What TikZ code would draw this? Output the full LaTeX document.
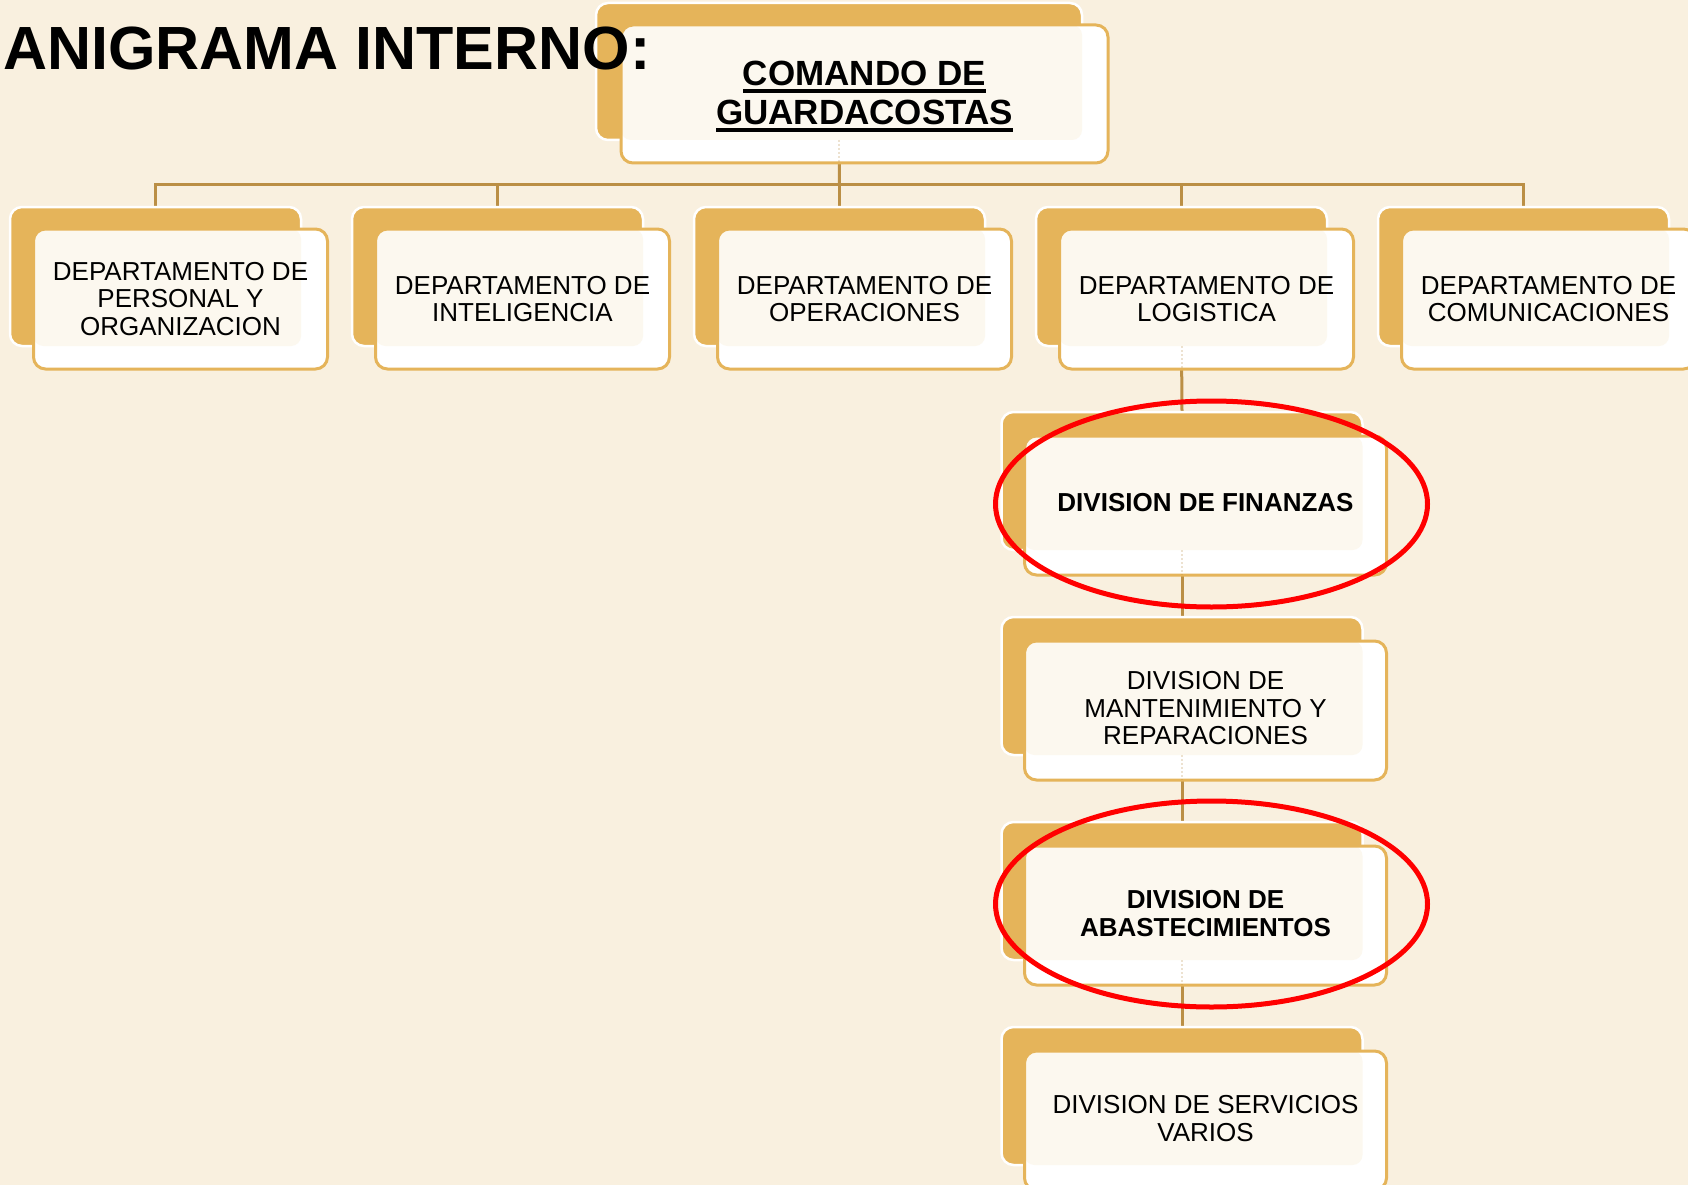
\documentclass[tikz,border=0pt]{standalone}
\usepackage{fontspec}
\setmainfont{Liberation Sans}
\usetikzlibrary{shapes.geometric}
\definecolor{bgc}{HTML}{F9F0DF}
\definecolor{boxgold}{HTML}{E5B45A}
\definecolor{connc}{HTML}{BB8F45}
\definecolor{tint}{HTML}{FCF8EF}
\pgfdeclarelayer{bglayer}
\pgfdeclarelayer{connlayer}
\pgfsetlayers{bglayer,connlayer,main}
\tikzset{
  backbox/.style={draw=white, line width=2.5pt, fill=boxgold, rounded corners=12pt, inner sep=0pt, outer sep=0pt, anchor=north west},
  frontbox/.style={draw=boxgold, line width=3pt, fill=white, rounded corners=12pt, inner sep=0pt, outer sep=0pt, anchor=north west},
  conn/.style={draw=connc, line width=3pt},
  faint/.style={draw=connc, line width=2pt, opacity=0.25, dash pattern=on 2pt off 2pt},
  lbl/.style={align=center, inner sep=0pt, font=\fontsize{26}{27.5}\selectfont},
  lblb/.style={align=center, inner sep=0pt, font=\fontsize{26}{27.5}\selectfont\bfseries},
  toplbl/.style={anchor=base, inner sep=0pt, font=\fontsize{35}{39}\selectfont\bfseries},
  ring/.style={draw=red, line width=5pt, ellipse, inner sep=0pt, minimum width=432pt, minimum height=206pt},
}
\newcommand\orgbox[9]{%
  \node[backbox, minimum width=#4, minimum height=#5] (#1b) at (#2,#3) {};
  \node[frontbox, minimum width=#8, minimum height=#9,
    path picture={\fill[tint, rounded corners=10pt] (path picture bounding box.north west) rectangle (#1b.south east);}]
    (#1) at ([shift={(#6,#7)}]#1b.north west) {};
}
\begin{document}
\begin{tikzpicture}[x=1pt, y=-1pt]
\useasboundingbox (0,0) rectangle (1688,1185);
\begin{pgfonlayer}{bglayer}
\fill[bgc] (0,0) rectangle (1688,1185);
\end{pgfonlayer}

\orgbox{top}{596}{3}{486}{137}{25}{22}{487}{138}
\orgbox{d1}{10}{207}{291}{139}{23.5}{22}{294}{140}
\orgbox{d2}{352}{207}{291}{139}{23.5}{22}{294}{140}
\orgbox{d3}{694}{207}{291}{139}{23.5}{22}{294}{140}
\orgbox{d4}{1036}{207}{291}{139}{23.5}{22}{294}{140}
\orgbox{d5}{1378}{207}{291}{139}{23.5}{22}{294}{140}
\orgbox{f1}{1001.5}{412}{361}{138}{23}{24}{362}{139}
\orgbox{f2}{1001.5}{617}{361}{138}{23}{24}{362}{139}
\orgbox{f3}{1001.5}{822}{361}{138}{23}{24}{362}{139}
\orgbox{f4}{1001.5}{1027}{361}{138}{23}{24}{362}{139}

\begin{pgfonlayer}{connlayer}
\coordinate (bus) at (839.5,185);
\draw[conn] (topb.south) -- (bus);
\draw[conn] (d1b.north) |- (bus) -| (d5b.north);
\draw[conn] (d2b.north) -- (d2b.north |- bus);
\draw[conn] (d3b.north) -- (d3b.north |- bus);
\draw[conn] (d4b.north) -- (d4b.north |- bus);
\draw[conn] (d4b.south) -- (f1b.north);
\draw[conn] (f1b.south) -- (f2b.north);
\draw[conn] (f2b.south) -- (f3b.north);
\draw[conn] (f3b.south) -- (f4b.north);
\end{pgfonlayer}

\draw[faint] (topb.south) -- (topb.south |- top.south);
\draw[faint] (d4b.south) -- (d4b.south |- d4.south);
\draw[faint] (f1b.south) -- (f1b.south |- f1.south);
\draw[faint] (f2b.south) -- (f2b.south |- f2.south);
\draw[faint] (f3b.south) -- (f3b.south |- f3.south);

\node[toplbl] (topt1) at (864.5,85.5) {COMANDO DE};
\node[toplbl] (topt2) at (864.5,124.5) {GUARDACOSTAS};
\fill ([yshift=-4pt]topt1.base west) rectangle ([yshift=-7.3pt]topt1.base east);
\fill ([yshift=-4pt]topt2.base west) rectangle ([yshift=-7.3pt]topt2.base east);

\node[lbl] (d1t) at (d1.center) {DEPARTAMENTO DE\\PERSONAL Y\\ORGANIZACION};
\node[lbl] (d2t) at (d2.center) {DEPARTAMENTO DE\\INTELIGENCIA};
\node[lbl] (d3t) at (d3.center) {DEPARTAMENTO DE\\OPERACIONES};
\node[lbl] (d4t) at (d4.center) {DEPARTAMENTO DE\\LOGISTICA};
\node[lbl] (d5t) at (d5.center) {DEPARTAMENTO DE\\COMUNICACIONES};
\node[lblb] (f1t) at ([yshift=3pt]f1.center) {DIVISION DE FINANZAS};
\node[lbl] (f2t) at ([yshift=2pt]f2.center) {DIVISION DE\\MANTENIMIENTO Y\\REPARACIONES};
\node[lblb] (f3t) at ([yshift=2pt]f3.center) {DIVISION DE\\ABASTECIMIENTOS};
\node[lbl] (f4t) at ([yshift=2pt]f4.center) {DIVISION DE SERVICIOS\\VARIOS};

\node[anchor=base west, inner sep=0pt, font=\fontsize{61}{61}\selectfont\bfseries] (title) at (3,69.5) {ANIGRAMA INTERNO:};

\node[ring] (e1) at (1211.5,504) {};
\node[ring] (e2) at (1211.5,904) {};
\end{tikzpicture}
\end{document}
